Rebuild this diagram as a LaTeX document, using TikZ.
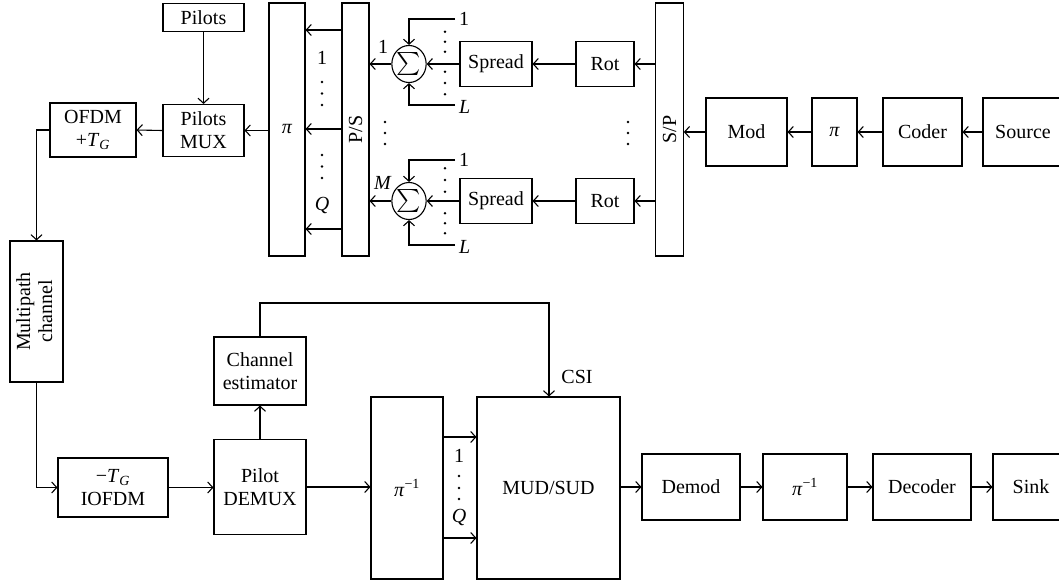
\documentclass[tikz,border=0pt]{standalone}
\usepackage{fontspec}
\setmainfont{Liberation Serif}
\usepackage{graphicx}
\usetikzlibrary{arrows.meta,shapes.geometric,calc}
\newcommand{\TG}{\textit{T}\textsubscript{\textit{G}}}
\newcommand{\piinv}{\textit{π}\textsuperscript{−1}}
\newcommand{\bigsum}{{\fontsize{10}{10}\selectfont\scalebox{2.3}{$\sum$}}}
\begin{document}
\begin{tikzpicture}[x=1pt,y=-1pt,
  every node/.style={font=\fontsize{20}{23}\selectfont},
  blk/.style={draw, line width=1.1pt, inner sep=0pt, align=center},
  sigma/.style={draw, ellipse, line width=1.1pt, inner sep=0pt, minimum width=32, minimum height=37},
  arr/.style={line width=1.1pt, -{Straight Barb[length=5pt,width=11pt,line width=1.1pt]}},
  lbl/.style={inner sep=0pt}
]
\clip (0,0) rectangle (1059,581);

% ---------- transmitter ----------
\node[blk,minimum width=81,minimum height=28] (pilots) at (203.5,17.5) {Pilots};
\node[blk,minimum width=81,minimum height=52] (pmux) at (203.5,130.5) {Pilots\\MUX};
\node[blk,minimum width=86,minimum height=54] (ofdm) at (93,130) {OFDM\\+\TG};
\node[blk,minimum width=36,minimum height=253] (pi) at (287,129.5) {\textit{π}};
\node[blk,minimum width=27,minimum height=253] (ps) at (355.5,129.5) {\rotatebox{90}{P/S}};
\node[sigma] (sig1) at (409,64) {\bigsum};
\node[sigma] (sig2) at (409,201) {\bigsum};
\node[blk,minimum width=72,minimum height=45] (spr1) at (496,64) {Spread};
\node[blk,minimum width=72,minimum height=45] (spr2) at (496,201) {Spread};
\node[blk,minimum width=58,minimum height=45] (rot1) at (605,64) {Rot};
\node[blk,minimum width=58,minimum height=45] (rot2) at (605,201) {Rot};
\node[blk,minimum width=27.5,minimum height=253] (sp) at (669.5,129.5) {\rotatebox{90}{S/P}};
\node[blk,minimum width=81,minimum height=68] (mod) at (746.5,132) {Mod};
\node[blk,minimum width=45,minimum height=68] (pi2) at (834.5,132) {\textit{π}};
\node[blk,minimum width=79,minimum height=68] (coder) at (922.5,132) {Coder};
\node[blk,minimum width=80,minimum height=68] (source) at (1023,132) {Source};

% ---------- channel & receiver ----------
\node[blk,minimum width=53,minimum height=141] (mp) at (36.5,311.5) {\rotatebox{90}{\begin{tabular}{@{}c@{}}Multipath\\[-1pt]channel\end{tabular}}};
\node[blk,minimum width=110,minimum height=59] (iofdm) at (113,487.5) {−\TG\\IOFDM};
\node[blk,minimum width=92,minimum height=95] (demux) at (260,487) {Pilot\\DEMUX};
\node[blk,minimum width=92,minimum height=68] (chest) at (260,371) {Channel\\estimator};
\node[blk,minimum width=72,minimum height=182] (pinv) at (407,488) {\piinv};
\node[blk,minimum width=143,minimum height=182] (mud) at (548.5,488) {MUD/SUD};
\node[blk,minimum width=98,minimum height=66] (demod) at (691,487) {Demod};
\node[blk,minimum width=84,minimum height=66] (pinv2) at (805,487) {\piinv};
\node[blk,minimum width=98,minimum height=66] (decoder) at (922,487) {Decoder};
\node[blk,minimum width=76,minimum height=66] (sink) at (1031,487) {Sink};

% ---------- labels ----------
\node[lbl] (lq1) at (322,58) {1};
\node[lbl] (lqq) at (322,205) {\textit{Q}};
\node[lbl] (ls1) at (383,47) {1};
\node[lbl] (lsm) at (383,183) {\textit{M}};
\node[lbl] (lr1) at (459,456) {1};
\node[lbl] (lrq) at (459,517) {\textit{Q}};
\node[lbl] (csilbl) at (577,377) {CSI};

% ---------- dots ----------
\foreach \y in {82,93.5,105,155,166.5,178} \fill (322,\y) circle (1.4);
\foreach \y in {122,133,144} {\fill (385,\y) circle (1.4); \fill (628,\y) circle (1.4);}
\foreach \y in {31.7,41.7,51.7,71.7,83,94.3,168.3,180,191.7,213.3,223.3,233.3} \fill (445,\y) circle (1.4);
\foreach \y in {476,488,499} \fill (459,\y) circle (1.4);

% ---------- summer inputs ----------
\coordinate (i1t) at (455,19);
\coordinate (i1b) at (455,105);
\coordinate (i2t) at (455,160);
\coordinate (i2b) at (455,245);
\draw[arr] (i1t) -| (sig1.north);
\draw[arr] (i1b) -| (sig1.south);
\draw[arr] (i2t) -| (sig2.north);
\draw[arr] (i2b) -| (sig2.south);
\node[lbl,anchor=west] (l1t) at (459,19) {1};
\node[lbl,anchor=west] (l1b) at (459,107) {\textit{L}};
\node[lbl,anchor=west] (l2t) at (459,160) {1};
\node[lbl,anchor=west] (l2b) at (459,247) {\textit{L}};

% ---------- transmitter connectors ----------
\draw[arr] (source.west) -- (coder.east);
\draw[arr] (coder.west) -- (pi2.east);
\draw[arr] (pi2.west) -- (mod.east);
\draw[arr] (mod.west) -- (mod.west -| sp.east);
\draw[arr] (sp.west |- rot1) -- (rot1.east);
\draw[arr] (sp.west |- rot2) -- (rot2.east);
\draw[arr] (rot1.west) -- (spr1.east);
\draw[arr] (rot2.west) -- (spr2.east);
\draw[arr] (spr1.west) -- (sig1.east);
\draw[arr] (spr2.west) -- (sig2.east);
\draw[arr] (sig1.west) -- (ps.east |- sig1);
\draw[arr] (sig2.west) -- (ps.east |- sig2);
\draw[arr] (ps.west |- 0,30) -- (pi.east |- 0,30);
\draw[arr] (ps.west |- 0,129) -- (pi.east |- 0,129);
\draw[arr] (ps.west |- 0,229) -- (pi.east |- 0,229);
\draw[arr] (pi.west |- pmux) -- (pmux.east);
\draw[arr] (pilots.south) -- (pmux.north);
\draw[arr] (pmux.west) -- (ofdm.east);
\draw[arr] (ofdm.west) -| (mp.north);

% ---------- receiver connectors ----------
\draw[arr] (mp.south) |- (iofdm.west);
\draw[arr] (iofdm.east) -- (demux.west |- iofdm.east);
\draw[arr] (demux.north) -- (chest.south);
\coordinate (csi) at (549,303);
\draw[arr] (chest.north) |- (csi) -- (csi |- mud.north);
\draw[arr] (demux.east) -- (pinv.west |- demux.east);
\draw[arr] (pinv.east |- 0,437) -- (mud.west |- 0,437);
\draw[arr] (pinv.east |- 0,538) -- (mud.west |- 0,538);
\draw[arr] (mud.east |- demod) -- (demod.west);
\draw[arr] (demod.east) -- (pinv2.west);
\draw[arr] (pinv2.east) -- (decoder.west);
\draw[arr] (decoder.east) -- (sink.west);
\end{tikzpicture}
\end{document}
